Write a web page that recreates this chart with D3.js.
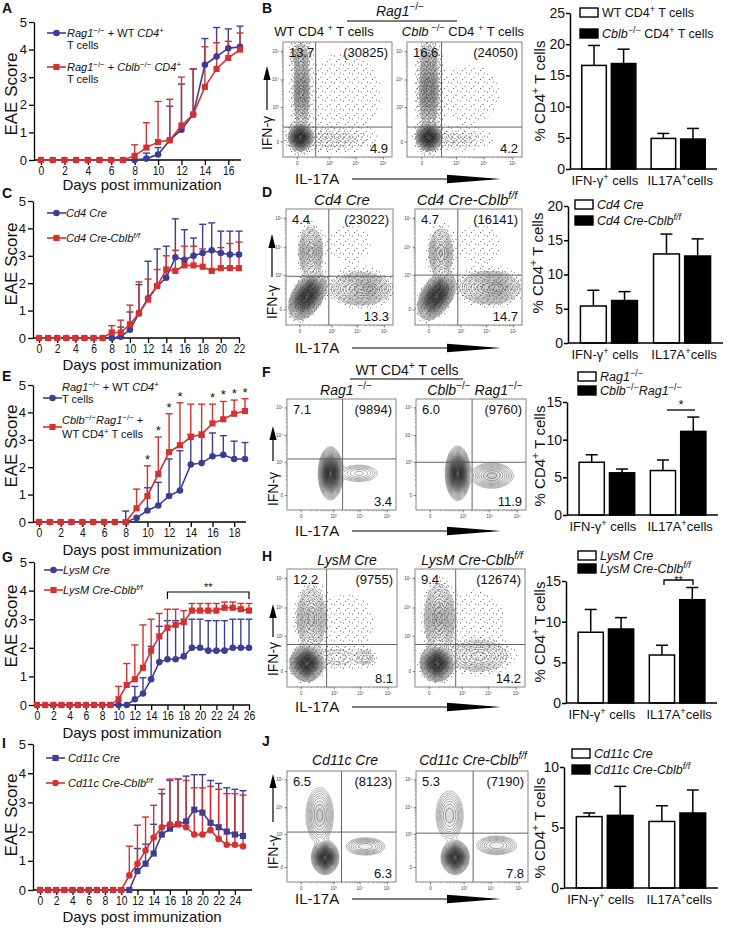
<!DOCTYPE html>
<html>
<head>
<meta charset="utf-8">
<title>EAE scores and Th1/Th17 staining</title>
<script src="https://cdn.jsdelivr.net/npm/d3@7"></script>
<style>
  body { margin: 0; background: #fff; }
  svg text { font-family: "Liberation Sans", Arial, Helvetica, sans-serif; fill: #111; }
</style>
</head>
<body>
<svg id="fig" width="747" height="928"></svg>
<script>
var svg = d3.select("#fig");
var BLUE = "#3c3d95", RED = "#d43131";

// ---------- EAE clinical score, array index = day post immunization ----------
var eaeTicks = [0, 1, 2, 3, 4, 5];

var ticksA   = [0, 2, 4, 6, 8, 10, 12, 14, 16];
var wtA      = [0,0,0,0,0,0,0,0,0,0.05,0.2,0.72,1.1,1.65,3.45,3.75,4.05,4.1];
var wtAErr   = [0,0,0,0,0,0,0,0,0,0.2,0.25,1.23,1.65,1.65,0.95,1.05,0.7,0.75];
var koA      = [0,0,0,0,0,0,0,0,0.15,0.45,0.65,0.72,1.25,1.65,2.65,3.3,3.7,4.0];
var koAErr   = [0,0,0,0,0,0,0,0,0.4,0.9,1.47,1.48,1.75,1.65,1.45,0.95,0.6,0.6];

var ticksC   = [0, 2, 4, 6, 8, 10, 12, 14, 16, 18, 20, 22];
var cd4C     = [0,0,0,0,0,0,0,0,0,0.05,0.3,0.9,1.45,1.9,2.2,2.95,2.85,3.0,3.1,3.2,3.1,3.05,3.05];
var cd4CErr  = [0,0,0,0,0,0,0,0,0,0.35,0.65,1.05,1.35,1.35,1.15,1.4,1.1,0.65,1.05,1.0,0.8,0.85,0.85];
var koC      = [0,0,0,0,0,0,0,0,0.2,0.2,0.5,0.9,1.4,1.9,2.5,2.45,2.65,2.65,2.6,2.45,2.55,2.55,2.55];
var koCErr   = [0,0,0,0,0,0,0,0,0.25,0.45,0.7,1.15,0.75,0.6,0.5,0.75,0.7,0.7,0.65,0.7,0.75,0.9,0.95];

var ticksE   = [0, 2, 4, 6, 8, 10, 12, 14, 16, 18];
var wtE      = [0,0,0,0,0,0,0,0,0,0.15,0.42,0.6,0.95,1.15,2.1,2.15,2.4,2.45,2.3,2.3];
var wtEErr   = [0,0,0,0,0,0,0,0,0.4,0,0.83,0.85,1.35,1.45,1.1,0.95,0.85,0.7,0.65,0.6];
var koE      = [0,0,0,0,0,0,0,0,0,0.5,0.95,1.75,2.55,2.8,3.1,3.2,3.6,3.75,3.95,4.05];
var koEErr   = [0,0,0,0,0,0,0,0,0,0.7,1.1,1.35,1.4,1.55,1.2,1.1,0.7,0.65,0.5,0.45];
var starsE   = [10, 11, 12, 13, 16, 17, 18, 19];

var ticksG   = [0, 2, 4, 6, 8, 10, 12, 14, 16, 18, 20, 22, 24, 26];
var lysG     = [0,0,0,0,0,0,0,0,0,0,0,0,0.2,0.4,0.9,1.5,1.6,1.6,1.7,2.0,2.0,1.9,1.9,1.9,2.0,2.0,2.0];
var lysGErr  = [0,0,0,0,0,0,0,0,0,0,0,0,0.45,0.55,1.15,1.25,1.35,1.35,1.3,1.0,1.0,1.05,1.05,1.05,1.0,1.0,1.0];
var koG      = [0,0,0,0,0,0,0,0,0,0,0.2,0.7,0.9,1.3,1.9,2.4,2.7,2.8,2.9,3.3,3.3,3.3,3.3,3.4,3.4,3.35,3.3];
var koGErr   = [0,0,0,0,0,0,0,0,0,0,0.45,0.75,1.2,1.5,1.1,0.8,0.65,0.55,0.4,0.25,0.25,0.25,0.25,0.2,0.2,0.2,0.25];

var ticksI   = [0, 2, 4, 6, 8, 10, 12, 14, 16, 18, 20, 22, 24];
var cd11I    = [0,0,0,0,0,0,0,0,0,0,0,0,0.65,0.9,1.25,1.9,2.1,2.25,2.35,2.75,2.65,2.3,2.15,2.0,1.9,1.85];
var cd11IErr = [0,0,0,0,0,0,0,0,0,0,0,0,0.77,0.67,1.0,1.4,1.65,1.55,1.55,1.2,1.3,1.45,1.5,1.5,1.55,1.55];
var koI      = [0,0,0,0,0,0,0,0,0,0,0,0.5,0.9,1.35,1.8,2.15,2.25,2.25,2.15,1.9,1.9,2.05,1.75,1.55,1.55,1.5];
var koIErr   = [0,0,0,0,0,0,0,0,0,0,0,1.0,1.32,1.15,1.1,1.3,1.55,1.55,1.6,1.6,1.6,1.5,1.7,1.75,1.75,1.75];

// ---------- % CD4+ T cells (bar charts) ----------
var barCats   = ["IFN-γ<sup>+</sup> cells", "IL17A<sup>+</sup>cells"];
var pctB = [16.6, 4.9],  pctBErr = [3.2, 0.8],  pctBKo = [16.9, 4.8],  pctBKoErr = [2.3, 1.7];
var pctD = [5.4, 13.0],  pctDErr = [2.3, 2.9],  pctDKo = [6.2, 12.7],  pctDKoErr = [1.3, 2.5];
var pctF = [7.0, 5.9],   pctFErr = [1.0, 1.4],  pctFKo = [5.6, 11.1],  pctFKoErr = [0.5, 1.9];
var pctH = [8.7, 5.9],   pctHErr = [2.8, 1.2],  pctHKo = [9.1, 12.7],  pctHKoErr = [1.4, 1.5];
var pctJ = [5.9, 5.5],   pctJErr = [0.3, 1.3],  pctJKo = [6.0, 6.2],   pctJKoErr = [2.4, 1.9];
var ticksBarB = [0, 5, 10, 15, 20, 25], ticksBarD = [0, 5, 10, 15, 20];
var ticksBarF = [0, 5, 10, 15], ticksBarH = [0, 5, 10, 15], ticksBarJ = [0, 5, 10];

// ---------- flow plots: quadrant numbers, gates, populations [u, v, sdU, sdV, angle, weight] ----------
var quadB = [["13.7", "(30825)", "4.9"], ["16.6", "(24050)", "4.2"]];
var quadD = [["4.4", "(23022)", "13.3"], ["4.7", "(16141)", "14.7"]];
var quadF = [["7.1", "(9894)", "3.4"], ["6.0", "(9760)", "11.9"]];
var quadH = [["12.2", "(9755)", "8.1"], ["9.4", "(12674)", "14.2"]];
var quadJ = [["6.5", "(8123)", "6.3"], ["5.3", "(7190)", "7.8"]];
var gateB = [[0.30, 0.26], [0.30, 0.26]];
var gateD = [[0.40, 0.42], [0.40, 0.43]];
var gateF = [[0.51, 0.46], [0.51, 0.43]];
var gateH = [[0.36, 0.36], [0.37, 0.36]];
var gateJ = [[0.50, 0.45], [0.51, 0.44]];
var popsB = [
  [[0.16,0.17,0.042,0.045,0,1],[0.17,0.58,0.035,0.17,0,0.2],[0.16,0.88,0.04,0.06,0,0.08],[0.45,0.15,0.17,0.05,0,0.025],[0.55,0.55,0.3,0.3,0,0.004]],
  [[0.19,0.17,0.042,0.045,0,1],[0.19,0.58,0.04,0.17,0,0.25],[0.19,0.86,0.04,0.06,0,0.06],[0.42,0.15,0.14,0.045,0,0.02],[0.55,0.55,0.28,0.28,0,0.003]]
];
var popsD = [
  [[0.2,0.25,0.075,0.045,55,1],[0.23,0.63,0.047,0.09,0,0.12],[0.7,0.31,0.12,0.06,0,0.12],[0.8,0.31,0.05,0.035,0,0.06],[0.6,0.7,0.25,0.2,0,0.0028]],
  [[0.2,0.25,0.075,0.045,55,1],[0.24,0.62,0.047,0.09,0,0.11],[0.7,0.32,0.12,0.06,0,0.13],[0.8,0.32,0.05,0.035,0,0.07],[0.6,0.7,0.25,0.2,0,0.0028]]
];
var popsF = [
  [[0.4,0.33,0.037,0.078,0,1],[0.66,0.33,0.09,0.04,0,0.05]],
  [[0.38,0.33,0.037,0.08,0,1],[0.69,0.31,0.085,0.05,0,0.12]]
];
var popsH = [
  [[0.18,0.2,0.05,0.05,0,1],[0.22,0.58,0.055,0.11,0,0.12],[0.71,0.25,0.045,0.035,0,0.025],[0.45,0.25,0.12,0.05,0,0.015],[0.55,0.55,0.3,0.3,0,0.0028]],
  [[0.2,0.2,0.05,0.05,0,1],[0.22,0.58,0.055,0.12,0,0.15],[0.58,0.26,0.12,0.06,0,0.07],[0.55,0.55,0.3,0.3,0,0.003]]
];
var popsJ = [
  [[0.35,0.22,0.041,0.05,0,1],[0.3,0.6,0.055,0.11,0,0.12],[0.72,0.32,0.085,0.037,0,0.08]],
  [[0.35,0.22,0.041,0.05,0,1],[0.3,0.6,0.055,0.1,0,0.1],[0.72,0.33,0.085,0.04,0,0.08]]
];
var flowTickText = ["0", "10³", "10⁴", "10⁵"];

// ---------- helpers ----------
// tiny markup: <i>..</i> italic, <sup>..</sup> superscript, <isup>..</isup> italic superscript
function rich(t, str, size) {
  var re = /<(i|sup|isup)>(.*?)<\/\1>|([^<]+)/g, m, shift = 0;
  while ((m = re.exec(str)) !== null) {
    var kind = m[1] || "", txt = m[1] ? m[2] : m[3];
    var sup = kind === "sup" || kind === "isup";
    var want = sup ? -0.4 * size : 0;
    var ts = t.append("tspan").text(txt).attr("dy", (want - shift).toFixed(2));
    shift = want;
    if (sup) ts.style("font-size", (size * 0.72) + "px");
    if (kind === "i" || kind === "isup") ts.style("font-style", "italic");
  }
  return t;
}
function label(g, x, y, str, size, anchor, rot) {
  var t = g.append("text").style("font-size", size + "px").attr("text-anchor", anchor || "start");
  if (rot) t.attr("transform", "translate(" + x + "," + y + ") rotate(-90)");
  else t.attr("x", x).attr("y", y);
  return rich(t, str, size);
}
function letter(ch, x, y) {
  svg.append("text").attr("x", x).attr("y", y).style("font-size", "14px").style("font-weight", "bold").text(ch);
}
function symFor(shape) {
  return d3.symbol().type(shape === "square" ? d3.symbolSquare : d3.symbolCircle).size(shape === "square" ? 38 : 34);
}
function styleAxis(a, size) {
  a.attr("font-family", null).attr("font-size", null);
  a.selectAll("text").style("font-size", size + "px");
  a.selectAll("line,path").attr("stroke", "#000").attr("stroke-width", 1.3);
}

// ---------- EAE line charts ----------
function lineChart(c) {
  var g = svg.append("g");
  var x = d3.scaleLinear().domain([0, c.series[0].vals.length - 1]).range([c.x0, c.x1]);
  var y = d3.scaleLinear().domain([0, 5]).range([c.yBot, c.yTop]);
  var ya = g.append("g").attr("transform", "translate(" + c.axisX + ",0)")
    .call(d3.axisLeft(y).tickValues(eaeTicks).tickFormat(d3.format("d")).tickSize(5).tickSizeOuter(0).tickPadding(2));
  var xa = g.append("g").attr("transform", "translate(0," + c.yBot + ")")
    .call(d3.axisBottom(x).tickValues(c.xTicks).tickFormat(d3.format("d")).tickSize(5).tickSizeOuter(0).tickPadding(1));
  styleAxis(ya, 13); styleAxis(xa, 13);
  // the original tick digits are tall but narrow: squeeze them horizontally
  xa.selectAll(".tick text").attr("transform", "scale(0.8,1)");
  xa.select(".domain").remove();
  g.append("line").attr("x1", c.axisX).attr("x2", c.axisEnd).attr("y1", c.yBot).attr("y2", c.yBot)
    .attr("stroke", "#000").attr("stroke-width", 1.3);

  c.series.forEach(function (s) {
    var eg = g.append("g").attr("stroke", s.color).attr("stroke-width", 1.4);
    s.vals.forEach(function (v, i) {
      var e = s.errs[i];
      if (!e) return;
      var cx = x(i), y1 = y(v + e);
      eg.append("line").attr("x1", cx).attr("x2", cx).attr("y1", y(v)).attr("y2", y1);
      eg.append("line").attr("x1", cx - 3.5).attr("x2", cx + 3.5).attr("y1", y1).attr("y2", y1);
    });
  });
  c.series.forEach(function (s) {
    g.append("path").datum(s.vals).attr("fill", "none").attr("stroke", s.color).attr("stroke-width", 1.6)
      .attr("d", d3.line().x(function (d, i) { return x(i); }).y(function (d) { return y(d); }));
    g.selectAll(null).data(s.vals).enter().append("path")
      .attr("d", symFor(s.shape)())
      .attr("transform", function (d, i) { return "translate(" + x(i) + "," + y(d) + ")"; })
      .attr("fill", s.color);
  });

  c.legend.forEach(function (L, k) {
    var s = c.series[k];
    g.append("line").attr("x1", L.lx).attr("x2", L.lx + 19).attr("y1", L.ly).attr("y2", L.ly)
      .attr("stroke", s.color).attr("stroke-width", 1.6);
    g.append("path").attr("d", symFor(s.shape)()).attr("fill", s.color)
      .attr("transform", "translate(" + (L.lx + 9.5) + "," + L.ly + ")");
    L.lines.forEach(function (str, m) { label(g, L.tx, L.ty[m], str, 11); });
  });

  if (c.stars) {
    var top = c.series[1];
    c.stars.forEach(function (d) {
      g.append("text").attr("x", x(d)).attr("y", y(top.vals[d] + top.errs[d]) - 2)
        .attr("text-anchor", "middle").style("font-size", "13px").text("*");
    });
  }
  if (c.bracket) {
    var b = c.bracket, bx1 = x(b.from), bx2 = x(b.to);
    g.append("path").attr("fill", "none").attr("stroke", "#000").attr("stroke-width", 1.2)
      .attr("d", "M" + bx1 + "," + (b.y + 7) + "V" + b.y + "H" + bx2 + "V" + (b.y + 7));
    g.append("text").attr("x", (bx1 + bx2) / 2).attr("y", b.y - 1).attr("text-anchor", "middle")
      .style("font-size", "11px").text(b.text);
  }

  label(g, 17, c.ylabY, "EAE Score", 17, "middle", true);
  label(g, 142, c.titleY, "Days post immunization", 15, "middle");
}

// ---------- bar charts ----------
function barChart(c) {
  var g = svg.append("g");
  var x0 = d3.scaleBand().domain(barCats).range([c.axisX, c.axisEnd]).paddingInner(0.22).paddingOuter(0.17);
  var x1 = d3.scaleBand().domain([0, 1]).range([0, x0.bandwidth()]).paddingInner(0.17);
  var y = d3.scaleLinear().domain([0, c.ticks[c.ticks.length - 1]]).range([c.yBot, c.yTop]);
  var groups = [
    { vals: c.ctrl, errs: c.ctrlErr, fill: "#fff" },
    { vals: c.ko, errs: c.koErr, fill: "#000" }
  ];
  groups.forEach(function (s, k) {
    barCats.forEach(function (cat, i) {
      var bx = x0(cat) + x1(k), bw = x1.bandwidth(), cx = bx + bw / 2;
      var yv = y(s.vals[i]), ye = y(s.vals[i] + s.errs[i]);
      g.append("line").attr("x1", cx).attr("x2", cx).attr("y1", yv).attr("y2", ye)
        .attr("stroke", "#000").attr("stroke-width", 1.5);
      g.append("line").attr("x1", cx - 6).attr("x2", cx + 6).attr("y1", ye).attr("y2", ye)
        .attr("stroke", "#000").attr("stroke-width", 1.5);
      g.append("rect").attr("x", bx).attr("y", yv).attr("width", bw).attr("height", c.yBot - yv)
        .attr("fill", s.fill).attr("stroke", "#000").attr("stroke-width", 1.5);
    });
  });
  var ya = g.append("g").attr("transform", "translate(" + c.axisX + ",0)")
    .call(d3.axisLeft(y).tickValues(c.ticks).tickFormat(d3.format("d")).tickSize(4).tickSizeOuter(0).tickPadding(1));
  styleAxis(ya, 14);
  ya.selectAll("line,path").attr("stroke-width", 1.5);
  g.append("line").attr("x1", c.axisX).attr("x2", c.axisEnd).attr("y1", c.yBot).attr("y2", c.yBot)
    .attr("stroke", "#000").attr("stroke-width", 1.5);
  barCats.forEach(function (cat, i) {
    label(g, x0(cat) + x0.bandwidth() / 2 + (i ? 2 : -4), c.yBot + 16, cat, 13, "middle");
  });
  label(g, c.ylabX, c.ylabY, "% CD4<sup>+</sup> T cells", 15, "middle", true);

  c.legend.forEach(function (str, k) {
    g.append("rect").attr("x", c.legX).attr("y", c.legY[k]).attr("width", 18).attr("height", 9)
      .attr("fill", k ? "#000" : "#fff").attr("stroke", "#000").attr("stroke-width", 1.4);
    label(g, c.legX + 22, c.legY[k] + 8.5, str, 12.5);
  });

  if (c.sig) {
    var s = c.sig;
    var d = s.ticks ? "M" + s.x1 + "," + (s.y + 5) + "V" + s.y + "H" + s.x2 + "V" + (s.y + 5)
                    : "M" + s.x1 + "," + s.y + "H" + s.x2;
    g.append("path").attr("d", d).attr("fill", "none").attr("stroke", "#000").attr("stroke-width", 1.3);
    g.append("text").attr("x", (s.x1 + s.x2) / 2).attr("y", s.ty).attr("text-anchor", "middle")
      .style("font-size", s.size + "px").text(s.text);
  }
}

// ---------- flow cytometry contour plots ----------
var defs = svg.append("defs");
var dotTiles = [
  { size: 9, pts: [[1.5, 2], [6, 5.5], [3.5, 7.5], [7.5, 1]] },
  { size: 6, pts: [[1, 1.5], [4, 3], [2.5, 5]] },
  { size: 4, pts: [[1, 1], [3, 2.6]] }
];
dotTiles.forEach(function (t, k) {
  var p = defs.append("pattern").attr("id", "dots" + k).attr("patternUnits", "userSpaceOnUse")
    .attr("width", t.size).attr("height", t.size);
  t.pts.forEach(function (q) { p.append("circle").attr("cx", q[0]).attr("cy", q[1]).attr("r", 0.5).attr("fill", "#333"); });
});
var lineLevels = [0.006, 0.009, 0.013, 0.018, 0.025, 0.034, 0.045, 0.06, 0.08, 0.105, 0.135, 0.17,
                  0.21, 0.26, 0.32, 0.39, 0.47, 0.56, 0.66, 0.77, 0.88];
var flowTickFrac = [0.13, 0.43, 0.67, 0.92];
var clipCount = 0;

function flowPlot(box, pops, gate, nums, st) {
  var g = svg.append("g");
  var nx = 96, ny = 96, vals = new Array(nx * ny);
  for (var j = 0; j < ny; j++) {
    for (var i = 0; i < nx; i++) {
      var u = (i + 0.5) / nx, v = 1 - (j + 0.5) / ny, f = 0;
      pops.forEach(function (p) {
        var a = p[4] * Math.PI / 180, du = u - p[0], dv = v - p[1];
        var pp = du * Math.cos(a) + dv * Math.sin(a), qq = -du * Math.sin(a) + dv * Math.cos(a);
        f += p[5] * Math.exp(-0.5 * (pp * pp / (p[2] * p[2]) + qq * qq / (p[3] * p[3])));
      });
      vals[i + j * nx] = f;
    }
  }
  var id = "clip" + (clipCount++);
  g.append("clipPath").attr("id", id).append("rect")
    .attr("x", box.x).attr("y", box.y).attr("width", box.w).attr("height", box.h);
  var cg = g.append("g").attr("clip-path", "url(#" + id + ")");
  var path = d3.geoPath(d3.geoTransform({
    point: function (px, py) { this.stream.point(box.x + px * box.w / nx, box.y + py * box.h / ny); }
  }));
  st.dots.forEach(function (t, k) {
    var c = d3.contours().size([nx, ny]).thresholds([t])(vals)[0];
    cg.append("path").attr("d", path(c)).attr("fill", "url(#dots" + k + ")");
  });
  var lt = lineLevels.filter(function (t) { return t >= st.lineFrom; });
  d3.contours().size([nx, ny]).thresholds(lt)(vals).forEach(function (c, k) {
    cg.append("path").attr("d", path(c))
      .attr("fill", c.value >= 0.06 ? "rgba(0,0,0,0.07)" : "none")
      .attr("stroke", d3.interpolateRgb("#8a8a8a", "#111")(k / (lt.length - 1)))
      .attr("stroke-width", 0.65);
  });

  // gates and frame
  var gx = box.x + gate[0] * box.w, gy = box.y + (1 - gate[1]) * box.h;
  g.append("line").attr("x1", gx).attr("x2", gx).attr("y1", box.y).attr("y2", box.y + box.h)
    .attr("stroke", "#555").attr("stroke-width", 0.9);
  g.append("line").attr("x1", box.x).attr("x2", box.x + box.w).attr("y1", gy).attr("y2", gy)
    .attr("stroke", "#555").attr("stroke-width", 0.9);
  g.append("rect").attr("x", box.x).attr("y", box.y).attr("width", box.w).attr("height", box.h)
    .attr("fill", "none").attr("stroke", "#777").attr("stroke-width", 0.9);

  // log-style ticks
  flowTickFrac.forEach(function (fr, k) {
    var ty = box.y + (1 - fr) * box.h, tx = box.x + fr * box.w;
    g.append("line").attr("x1", box.x - 2.5).attr("x2", box.x).attr("y1", ty).attr("y2", ty).attr("stroke", "#333").attr("stroke-width", 0.6);
    g.append("line").attr("x1", tx).attr("x2", tx).attr("y1", box.y + box.h).attr("y2", box.y + box.h + 2.5).attr("stroke", "#333").attr("stroke-width", 0.6);
    g.append("text").attr("x", box.x - 4).attr("y", ty + 1.5).attr("text-anchor", "end")
      .style("font-size", "4.5px").style("fill", "#444").text(flowTickText[k]);
    g.append("text").attr("x", tx).attr("y", box.y + box.h + 8).attr("text-anchor", "middle")
      .style("font-size", "4.5px").style("fill", "#444").text(flowTickText[k]);
    if (k < flowTickFrac.length - 1) {
      for (var m = 2; m < 10; m++) {
        var fm = fr + (flowTickFrac[k + 1] - fr) * Math.log10(m);
        g.append("line").attr("x1", box.x - 1.5).attr("x2", box.x).attr("y1", box.y + (1 - fm) * box.h).attr("y2", box.y + (1 - fm) * box.h).attr("stroke", "#555").attr("stroke-width", 0.4);
        g.append("line").attr("x1", box.x + fm * box.w).attr("x2", box.x + fm * box.w).attr("y1", box.y + box.h).attr("y2", box.y + box.h + 1.5).attr("stroke", "#555").attr("stroke-width", 0.4);
      }
    }
  });

  // quadrant numbers
  g.append("text").attr("x", box.x + 6).attr("y", box.y + 15).style("font-size", "13px").text(nums[0]);
  g.append("text").attr("x", box.x + box.w - 4).attr("y", box.y + 15).attr("text-anchor", "end").style("font-size", "13px").text(nums[1]);
  g.append("text").attr("x", box.x + box.w - 4).attr("y", box.y + box.h - 4).attr("text-anchor", "end").style("font-size", "13px").text(nums[2]);
}

function flowRow(r) {
  letter(r.letter, r.lx, r.ly);
  r.titles.forEach(function (t) { label(svg, t.x, t.y, t.t, t.size, "middle"); });
  if (r.underline) {
    svg.append("line").attr("x1", r.underline[0]).attr("x2", r.underline[1])
      .attr("y1", r.underline[2]).attr("y2", r.underline[2]).attr("stroke", "#000").attr("stroke-width", 1.2);
  }
  r.boxes.forEach(function (b, k) { flowPlot(b, r.pops[k], r.gates[k], r.nums[k], r.style); });
  // IFN-γ axis label with arrow
  var f = r.ifn;
  svg.append("line").attr("x1", f.x).attr("x2", f.x).attr("y1", f.bot).attr("y2", f.top + 10)
    .attr("stroke", "#000").attr("stroke-width", 1.2);
  svg.append("path").attr("d", "M" + f.x + "," + f.top + "L" + (f.x - 3.6) + "," + (f.top + 14) + "L" + (f.x + 3.6) + "," + (f.top + 14) + "Z");
  label(svg, f.x + 5, f.cy, "IFN-γ", 14, "middle", true);
  // IL-17A axis label with wedge arrow
  label(svg, 295, r.ilY, "IL-17A", 15, "start");
  var ay = r.ilY - 5;
  svg.append("line").attr("x1", 352).attr("x2", 450).attr("y1", ay).attr("y2", ay).attr("stroke", "#000").attr("stroke-width", 1.2);
  svg.append("path").attr("d", "M447," + (ay - 4.2) + "L501," + ay + "L447," + (ay + 4.2) + "Z");
}

// ================= panels =================
letter("A", 2, 13); letter("C", 2, 198); letter("E", 2, 381); letter("G", 2, 562); letter("I", 2, 748);

lineChart({
  axisX: 34, x0: 41, x1: 240, axisEnd: 241, yTop: 22, yBot: 160, xTicks: ticksA, ylabY: 94, titleY: 190,
  series: [{ vals: wtA, errs: wtAErr, color: BLUE, shape: "circle" }, { vals: koA, errs: koAErr, color: RED, shape: "square" }],
  legend: [
    { lx: 47, ly: 33, tx: 67, ty: [37, 49], lines: ["<i>Rag1</i><sup>−/−</sup> + WT <i>CD4</i><sup>+</sup>", "T cells"] },
    { lx: 47, ly: 67, tx: 67, ty: [71, 83], lines: ["<i>Rag1</i><sup>−/−</sup> + <i>Cblb</i><sup>−/−</sup> <i>CD4</i><sup>+</sup>", "T cells"] }
  ]
});
lineChart({
  axisX: 33, x0: 39, x1: 239, axisEnd: 240, yTop: 201, yBot: 338, xTicks: ticksC, ylabY: 264, titleY: 370,
  series: [{ vals: cd4C, errs: cd4CErr, color: BLUE, shape: "circle" }, { vals: koC, errs: koCErr, color: RED, shape: "square" }],
  legend: [
    { lx: 47, ly: 213, tx: 66, ty: [217], lines: ["<i>Cd4 Cre</i>"] },
    { lx: 47, ly: 238, tx: 66, ty: [242], lines: ["<i>Cd4 Cre-Cblb</i><isup>f/f</isup>"] }
  ]
});
lineChart({
  axisX: 33, x0: 39, x1: 245, axisEnd: 246, yTop: 385, yBot: 522, xTicks: ticksE, ylabY: 446, titleY: 555,
  series: [{ vals: wtE, errs: wtEErr, color: BLUE, shape: "circle" }, { vals: koE, errs: koEErr, color: RED, shape: "square" }],
  legend: [
    { lx: 43, ly: 398, tx: 62, ty: [391, 403], lines: ["<i>Rag1</i><sup>−/−</sup> + WT <i>CD4</i><sup>+</sup>", "T cells"] },
    { lx: 43, ly: 427, tx: 62, ty: [424, 438], lines: ["<i>Cblb</i><sup>−/−</sup><i>Rag1</i><sup>−/−</sup> +", "WT CD4<sup>+</sup> T cells"] }
  ],
  stars: starsE
});
lineChart({
  axisX: 34, x0: 37, x1: 249, axisEnd: 250, yTop: 562, yBot: 705, xTicks: ticksG, ylabY: 626, titleY: 738,
  series: [{ vals: lysG, errs: lysGErr, color: BLUE, shape: "circle" }, { vals: koG, errs: koGErr, color: RED, shape: "square" }],
  legend: [
    { lx: 44, ly: 570, tx: 63, ty: [574], lines: ["<i>LysM Cre</i>"] },
    { lx: 44, ly: 590, tx: 63, ty: [594], lines: ["<i>LysM Cre-Cblb</i><isup>f/f</isup>"] }
  ],
  bracket: { from: 16, to: 26, y: 592, text: "**" }
});
lineChart({
  axisX: 33, x0: 40, x1: 243, axisEnd: 252, yTop: 744, yBot: 890, xTicks: ticksI, ylabY: 815, titleY: 922,
  series: [{ vals: cd11I, errs: cd11IErr, color: BLUE, shape: "square" }, { vals: koI, errs: koIErr, color: RED, shape: "circle" }],
  legend: [
    { lx: 46, ly: 758, tx: 68, ty: [762], lines: ["<i>Cd11c Cre</i>"] },
    { lx: 46, ly: 783, tx: 68, ty: [787], lines: ["<i>Cd11c Cre-Cblb</i><isup>f/f</isup>"] }
  ]
});

var styleDense = { dots: [0.002, 0.005, 0.012], lineFrom: 0.03 };
var styleSparse = { dots: [0.002, 0.0045], lineFrom: 0.009 };
var styleClean = { dots: [], lineFrom: 0.009 };

flowRow({
  letter: "B", lx: 262, ly: 13,
  titles: [
    { t: "<i>Rag1</i><sup>−/−</sup>", x: 400, y: 16, size: 14 },
    { t: "WT  CD4 <sup>+</sup> T cells", x: 324, y: 36, size: 13 },
    { t: "<i>Cblb</i><sup> −/−</sup> CD4 <sup>+</sup> T cells", x: 463, y: 36, size: 13 }
  ],
  underline: [347, 457, 21],
  boxes: [{ x: 283, y: 42, w: 109, h: 115 }, { x: 407, y: 42, w: 115, h: 115 }],
  pops: popsB, gates: gateB, nums: quadB, style: styleDense,
  ifn: { x: 267, top: 66, bot: 110, cy: 133 }, ilY: 184
});
flowRow({
  letter: "D", lx: 262, ly: 197,
  titles: [
    { t: "<i>Cd4 Cre</i>", x: 342, y: 205, size: 15 },
    { t: "<i>Cd4 Cre-Cblb</i><isup>f/f</isup>", x: 467, y: 205, size: 15 }
  ],
  boxes: [{ x: 286, y: 209, w: 107, h: 116 }, { x: 415, y: 209, w: 107, h: 116 }],
  pops: popsD, gates: gateD, nums: quadD, style: styleSparse,
  ifn: { x: 272, top: 234, bot: 277, cy: 302 }, ilY: 353
});
flowRow({
  letter: "F", lx: 262, ly: 377,
  titles: [
    { t: "WT CD4<sup>+</sup> T cells", x: 407, y: 375, size: 14 },
    { t: "<i>Rag1</i> <sup>−/−</sup>", x: 346, y: 395, size: 14 },
    { t: "<i>Cblb</i><sup>−/−</sup> <i>Rag1</i><sup>−/−</sup>", x: 475, y: 395, size: 14 }
  ],
  underline: [350, 463, 379],
  boxes: [{ x: 287, y: 399, w: 109, h: 111 }, { x: 416, y: 399, w: 110, h: 111 }],
  pops: popsF, gates: gateF, nums: quadF, style: styleClean,
  ifn: { x: 273, top: 426, bot: 461, cy: 489 }, ilY: 536
});
flowRow({
  letter: "H", lx: 262, ly: 561,
  titles: [
    { t: "<i>LysM Cre</i>", x: 347, y: 565, size: 14 },
    { t: "<i>LysM Cre-Cblb</i><isup>f/f</isup>", x: 472, y: 565, size: 14 }
  ],
  boxes: [{ x: 287, y: 569, w: 110, h: 118 }, { x: 415, y: 569, w: 110, h: 118 }],
  pops: popsH, gates: gateH, nums: quadH, style: styleSparse,
  ifn: { x: 273, top: 604, bot: 637, cy: 659 }, ilY: 712
});
flowRow({
  letter: "J", lx: 262, ly: 746,
  titles: [
    { t: "<i>Cd11c Cre</i>", x: 345, y: 765, size: 14 },
    { t: "<i>Cd11c Cre-Cblb</i><isup>f/f</isup>", x: 473, y: 765, size: 14 }
  ],
  boxes: [{ x: 287, y: 771, w: 109, h: 111 }, { x: 416, y: 771, w: 112, h: 111 }],
  pops: popsJ, gates: gateJ, nums: quadJ, style: styleClean,
  ifn: { x: 273, top: 774, bot: 822, cy: 852 }, ilY: 904
});

barChart({
  axisX: 570, axisEnd: 717, yTop: 13, yBot: 169, ticks: ticksBarB,
  ctrl: pctB, ctrlErr: pctBErr, ko: pctBKo, koErr: pctBKoErr,
  ylabX: 545, ylabY: 91, legX: 580, legY: [8, 29],
  legend: ["WT CD4<sup>+</sup> T cells", "<i>Cblb</i><sup>−/−</sup> CD4<sup>+</sup> T cells"]
});
barChart({
  axisX: 568, axisEnd: 723, yTop: 206, yBot: 343, ticks: ticksBarD,
  ctrl: pctD, ctrlErr: pctDErr, ko: pctDKo, koErr: pctDKoErr,
  ylabX: 543, ylabY: 263, legX: 575, legY: [200, 216],
  legend: ["<i>Cd4 Cre</i>", "<i>Cd4 Cre-Cblb</i><isup>f/f</isup>"]
});
barChart({
  axisX: 567, axisEnd: 718, yTop: 402, yBot: 515, ticks: ticksBarF,
  ctrl: pctF, ctrlErr: pctFErr, ko: pctFKo, koErr: pctFKoErr,
  ylabX: 545, ylabY: 456, legX: 578, legY: [372, 386],
  legend: ["<i>Rag1</i><sup>−/−</sup>", "<i>Cblb</i><sup>−/−</sup><i>Rag1</i><sup>−/−</sup>"],
  sig: { x1: 667, x2: 695, y: 410, ty: 409, text: "*", size: 13, ticks: false }
});
barChart({
  axisX: 566, axisEnd: 717, yTop: 581, yBot: 703, ticks: ticksBarH,
  ctrl: pctH, ctrlErr: pctHErr, ko: pctHKo, koErr: pctHKoErr,
  ylabX: 545, ylabY: 632, legX: 578, legY: [551, 564],
  legend: ["<i>LysM Cre</i>", "<i>LysM Cre-Cblb</i><isup>f/f</isup>"],
  sig: { x1: 664, x2: 693, y: 580, ty: 584, text: "**", size: 11, ticks: true }
});
barChart({
  axisX: 564, axisEnd: 718, yTop: 767, yBot: 888, ticks: ticksBarJ,
  ctrl: pctJ, ctrlErr: pctJErr, ko: pctJKo, koErr: pctJKoErr,
  ylabX: 545, ylabY: 828, legX: 572, legY: [749, 765],
  legend: ["<i>Cd11c Cre</i>", "<i>Cd11c Cre-Cblb</i><isup>f/f</isup>"]
});
</script>
</body>
</html>
